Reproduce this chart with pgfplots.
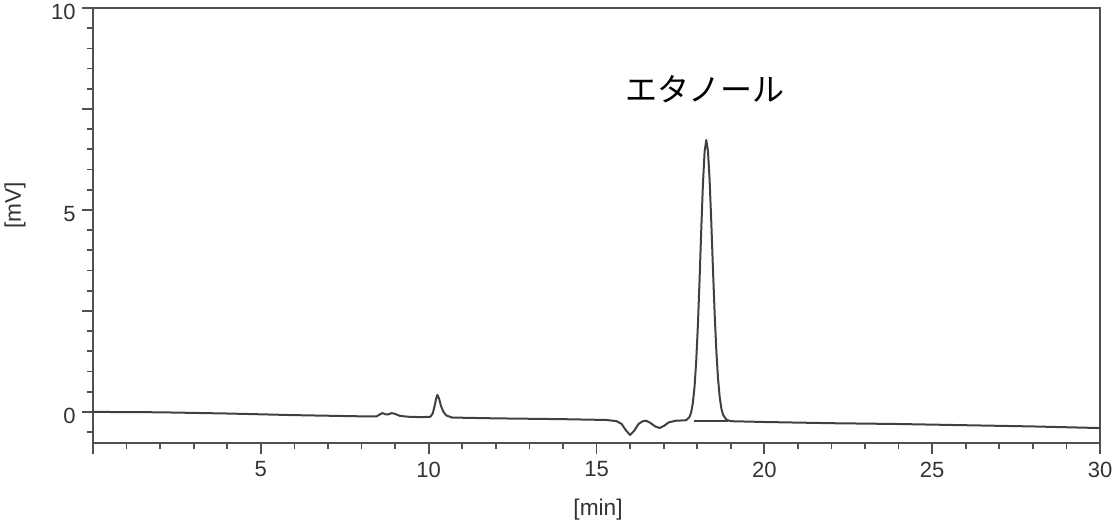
\documentclass[border=0pt]{standalone}
\usepackage{pgfplots}
\pgfplotsset{compat=1.18}
\usepackage{fontspec}
\setmainfont{Liberation Sans}
\newfontfamily\jp{Noto Sans CJK JP}
\definecolor{axgray}{HTML}{505050}
\definecolor{trace}{HTML}{404040}
\definecolor{lblgray}{HTML}{333333}

\begin{document}
\begin{tikzpicture}
    \begin{axis}[
        scale only axis,
        width  = 755.25pt,
        height = 326.25pt,
        xmin=0, xmax=30,
        ymin=-0.77, ymax=10,
        axis line style={axgray, line width=1.5pt},
        tick pos=left,
        tick align=outside,
        major tick length=8.5pt,
        minor tick length=4.5pt,
        every tick/.style={axgray, line width=1.3pt},
        xtick={0,5,...,30},
        xticklabels={,5,10,15,20,25,30},
        minor xtick={0,1,...,30},
        ytick={0,2.5,5,7.5,10},
        yticklabels={0,,5,,10},
        minor ytick={-0.5,0,...,10},
        /pgf/number format/assume math mode=true,
        tick label style={font=\fontsize{16.5}{19}\selectfont, text=lblgray},
        xticklabel style={yshift=-2pt},
        yticklabel style={xshift=-1pt, yshift=-3pt},
        xlabel={[min]},
        ylabel={[mV]},
        label style={font=\fontsize{17}{20}\selectfont, text=lblgray},
        xlabel style={at={(axis description cs:0.5015,-0.154)}, anchor=center},
        ylabel style={at={(axis description cs:-0.0775,0.547)}, anchor=center},
        clip=false,
    ]
        \addplot[trace, line width=1.5pt, mark=none, line join=round] coordinates {
            (0,0.0) (1,-0.005) (2,-0.01) (3,-0.025) (4,-0.04) (5,-0.06) (6,-0.08)
            (7,-0.095) (8,-0.11) (8.45,-0.11) (8.55,-0.06) (8.62,-0.03) (8.72,-0.06)
            (8.8,-0.06) (8.9,-0.03) (9.0,-0.05) (9.15,-0.1) (9.4,-0.12) (9.8,-0.13)
            (10.05,-0.12) (10.12,-0.04) (10.17,0.12) (10.22,0.32) (10.26,0.42)
            (10.31,0.33) (10.37,0.14) (10.44,0.0) (10.53,-0.09) (10.7,-0.14)
            (12,-0.16) (14,-0.18) (15.3,-0.2) (15.6,-0.23) (15.75,-0.3) (15.88,-0.46)
            (16.0,-0.57) (16.12,-0.47) (16.25,-0.3) (16.38,-0.23) (16.48,-0.22)
            (16.6,-0.27) (16.75,-0.36) (16.88,-0.4) (17.02,-0.34) (17.15,-0.26)
            (17.35,-0.22) (17.67,-0.206) (17.77,-0.128) (17.82,-0.011) (17.87,0.216)
            (17.92,0.614) (17.97,1.246) (18.02,2.136) (18.07,3.255) (18.12,4.492)
            (18.17,5.625) (18.22,6.438) (18.27,6.73) (18.32,6.466) (18.37,5.736)
            (18.42,4.694) (18.47,3.526) (18.52,2.428) (18.57,1.511) (18.62,0.829)
            (18.67,0.369) (18.72,0.085) (18.77,-0.073) (18.87,-0.193) (19.0,-0.23)
            (20,-0.25) (22,-0.28) (24,-0.3) (26,-0.33) (28,-0.36) (30,-0.4)
        };
        \addplot[trace, line width=1.2pt, mark=none] coordinates {
            (17.9,-0.22) (18.93,-0.22)
        };
        \node[font=\jp\fontsize{24}{28}\selectfont, text=black] at (axis cs:18.24,7.99) {エタノール};
    \end{axis}
    \pgfresetboundingbox
    \path[use as bounding box] ([xshift=-69.75pt,yshift=-60pt]current axis.south west)
        rectangle ([xshift=12pt,yshift=6pt]current axis.north east);
\end{tikzpicture}
\end{document}
